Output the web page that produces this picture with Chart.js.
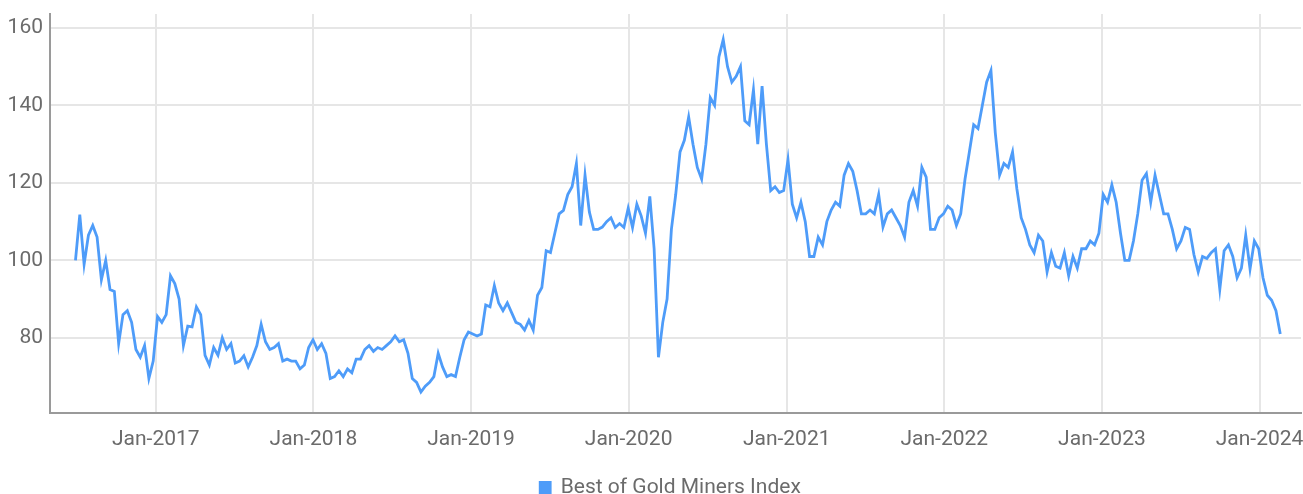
<!DOCTYPE html>
<html>
<head>
<meta charset="utf-8">
<script src="https://cdn.jsdelivr.net/npm/chart.js@4/dist/chart.umd.min.js"></script>
<style>
  html, body { margin: 0; padding: 0; background: #fff; }
  #wrap { width: 1303px; height: 494px; position: relative; }
</style>
</head>
<body>
<div id="wrap"><canvas id="chart"></canvas></div>
<script>
const seriesName = 'Best of Gold Miners Index';
const startDate = '2016-06-29';
const stepDays = 10;
const values = [
  100, 111.8, 99, 106.5, 109, 106, 95, 100, 92.5, 92,
  78.5, 86, 87, 84, 77, 75, 78, 69.5, 74, 85.5,
  84, 86, 96, 94, 90, 78, 83, 82.8, 88, 86,
  75.5, 73, 77.5, 75.5, 80, 77, 78.5, 73.5, 74, 75.4,
  72.5, 75, 78, 83.5, 79, 77, 77.5, 78.5, 74, 74.5,
  74, 74, 72, 73, 77.5, 79.5, 77, 78.5, 76, 69.5,
  70, 71.5, 70, 72, 71, 74.5, 74.5, 77, 78, 76.5,
  77.5, 77, 78, 79, 80.5, 79, 79.5, 76, 69.5, 68.5,
  66, 67.5, 68.5, 70, 76, 72.5, 70, 70.5, 70, 75,
  79.5, 81.5, 81, 80.5, 81, 88.5, 88, 93.5, 89, 87,
  89, 86.5, 84, 83.5, 82, 84.5, 82, 91, 93, 102.5,
  102, 107, 112, 112.9, 117, 119, 125, 109, 122, 112.5,
  108, 108, 108.6, 110, 111, 108.5, 109.5, 108.5, 113.5, 108.5,
  114.5, 111.5, 107, 116.5, 103, 75, 84, 90, 108, 117,
  128, 131, 137, 130, 124, 121, 130, 142, 140, 152.5,
  157, 150, 146, 147.5, 150, 136, 135, 144, 130, 145,
  130, 118, 119, 117.5, 118, 126, 114.5, 111, 115, 110,
  101, 101, 106, 104, 110, 113, 115, 114, 122, 125,
  123, 118, 112, 112, 113, 112, 117, 108.6, 112, 113,
  111, 109, 106, 115, 118, 114, 124, 121.5, 108, 108,
  111, 112, 114, 113, 109, 112, 121, 128, 135, 134,
  140, 146, 149, 133, 122, 125, 124, 128, 118.5, 111,
  108, 104, 102, 106.5, 105, 97, 102, 98.5, 98, 102,
  96, 101, 98, 103, 103, 105, 104, 107, 117, 115,
  119.5, 115, 107, 100, 100, 105, 112, 120.7, 122.4, 115,
  122, 117, 112, 112, 108, 103, 105, 108.5, 108, 101.5,
  97, 101, 100.5, 102, 103, 92.5, 102.5, 104, 101, 95.5,
  98, 106.5, 97.8, 105, 103, 95.5, 91, 89.7, 87, 81
];

// Axis ticks
const tickYears = [2017, 2018, 2019, 2020, 2021, 2022, 2023, 2024];
const yTicks = [80, 100, 120, 140, 160];

const dayMs = 86400000;
const start = Date.parse(startDate);
const points = values.map((v, i) => ({ x: start + i * stepDays * dayMs, y: v }));

const fontFamily = "Roboto, 'Noto Sans', sans-serif";
const textColor = '#6b6b6b';
const lineColor = '#4e9cf9';

// Nudge the legend so it sits centred under the plot area like the original
const legendShift = {
  id: 'legendShift',
  afterLayout(chart) {
    if (chart.legend) {
      chart.legend.left += 20;
      chart.legend.right += 20;
    }
  }
};

const ctx = document.getElementById('chart').getContext('2d');

new Chart(ctx, {
  type: 'line',
  data: {
    datasets: [{
      label: seriesName,
      data: points,
      borderColor: lineColor,
      backgroundColor: lineColor,
      borderWidth: 2.8,
      pointRadius: 0,
      tension: 0,
      fill: false
    }]
  },
  options: {
    responsive: true,
    maintainAspectRatio: false,
    animation: false,
    layout: {
      padding: { top: 14, right: 2, left: 0, bottom: -14 }
    },
    plugins: {
      tooltip: { enabled: false },
      legend: {
        position: 'bottom',
        labels: {
          color: textColor,
          font: { family: fontFamily, size: 21 },
          boxWidth: 10,
          boxHeight: 10,
          padding: 0
        }
      }
    },
    scales: {
      x: {
        type: 'linear',
        min: Date.UTC(2016, 4, 1),
        max: Date.UTC(2024, 3, 6),
        afterBuildTicks: scale => {
          scale.ticks = tickYears.map(y => ({ value: Date.UTC(y, 0, 1) }));
        },
        afterFit: scale => {
          scale.height = 64;
          scale.paddingLeft = 0;
          scale.paddingRight = 0;
        },
        ticks: {
          color: textColor,
          font: { family: fontFamily, size: 21 },
          padding: 14,
          maxRotation: 0,
          autoSkip: false,
          callback: value => 'Jan-' + new Date(value).getUTCFullYear()
        },
        grid: {
          color: '#e6e6e6',
          lineWidth: 2,
          drawTicks: false
        },
        border: { color: '#9a9a9a', width: 2 }
      },
      y: {
        min: 60.6,
        max: 163.6,
        afterBuildTicks: scale => {
          scale.ticks = yTicks.map(v => ({ value: v }));
        },
        afterFit: scale => {
          scale.width = 50;
          scale.paddingTop = 0;
          scale.paddingBottom = 0;
        },
        ticks: {
          color: textColor,
          font: { family: fontFamily, size: 21 },
          padding: 7
        },
        grid: {
          color: '#e6e6e6',
          lineWidth: 2,
          drawTicks: false
        },
        border: { color: '#9a9a9a', width: 2 }
      }
    }
  },
  plugins: [legendShift]
});
</script>
</body>
</html>
